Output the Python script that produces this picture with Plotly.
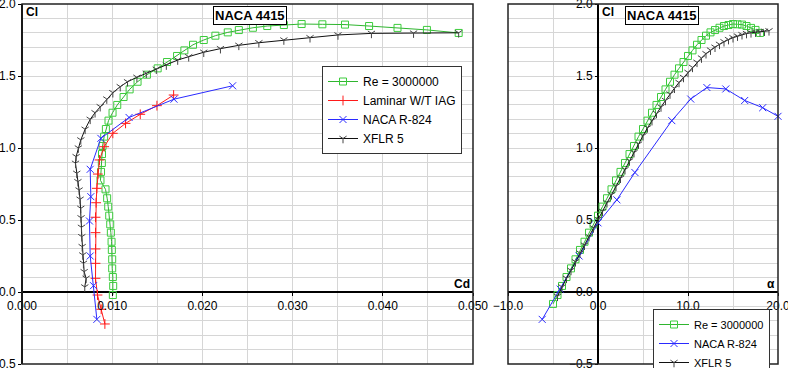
import plotly.graph_objects as go

# ---------------- data ----------------
# Re = 3000000 (lift curve, right panel)
green_alpha = [-5.0, -4.5, -4.0, -3.5, -3.0, -2.5, -2.0, -1.5, -1.0, -0.5, 0.0, 0.5, 1.0, 1.5,
               2.0, 2.5, 3.0, 3.5, 4.0, 4.5, 5.0, 5.5, 6.0, 6.5, 7.0, 7.5, 8.0, 8.5, 9.0, 9.5,
               10.0, 10.5, 11.0, 11.5, 12.0, 12.5, 13.0, 13.5, 14.0, 14.5, 15.0, 15.5, 16.0,
               16.5, 17.0, 17.5, 18.0]
green_cl = [-0.083, -0.021, 0.042, 0.104, 0.164, 0.227, 0.292, 0.349, 0.412, 0.470, 0.530, 0.593,
            0.651, 0.713, 0.775, 0.834, 0.896, 0.958, 1.014, 1.079, 1.132, 1.190, 1.245, 1.299,
            1.354, 1.407, 1.460, 1.509, 1.553, 1.597, 1.639, 1.678, 1.717, 1.750, 1.780, 1.803,
            1.819, 1.835, 1.847, 1.854, 1.861, 1.859, 1.857, 1.847, 1.834, 1.820, 1.799]
# Re = 3000000 (drag polar, left panel)
green_polar_cl = [-0.021, 0.042, 0.104, 0.164, 0.227, 0.292, 0.349, 0.412, 0.470, 0.530, 0.593,
                  0.651, 0.713, 0.775, 0.834, 0.896, 0.958, 1.014, 1.079, 1.132, 1.190, 1.245,
                  1.299, 1.354, 1.407, 1.460, 1.509, 1.553, 1.597, 1.639, 1.678, 1.717, 1.750,
                  1.780, 1.803, 1.819, 1.835, 1.847, 1.854, 1.861, 1.859, 1.857, 1.847, 1.834,
                  1.820, 1.799]
green_cd = [0.01007, 0.01011, 0.01007, 0.0100, 0.0100, 0.00996, 0.00993, 0.00985, 0.00978,
            0.00967, 0.00956, 0.00944, 0.00926, 0.0087, 0.00876, 0.00885, 0.00887, 0.00893,
            0.00911, 0.0093, 0.00959, 0.01004, 0.01056, 0.01126, 0.01193, 0.01281, 0.01385,
            0.01504, 0.01608, 0.01719, 0.0180, 0.01896, 0.02015, 0.02144, 0.02281, 0.02404,
            0.0256, 0.02719, 0.02903, 0.0310, 0.0333, 0.03581, 0.03848, 0.04163, 0.04489, 0.04841]

# Laminar W/T IAG (drag polar)
red_cd = [0.00919, 0.00878, 0.00837, 0.00815, 0.00815, 0.00815, 0.00815, 0.00815, 0.00822,
          0.0083, 0.00841, 0.00859, 0.00911, 0.01007, 0.01148, 0.01311, 0.01496, 0.01681]
red_cl = [-0.222, -0.12, -0.021, 0.095, 0.199, 0.299, 0.412, 0.519, 0.62, 0.72, 0.819, 0.917,
          1.009, 1.102, 1.171, 1.234, 1.294, 1.368]

# NACA R-824
blue_cd = [0.0083, 0.00793, 0.00756, 0.00748, 0.00763, 0.00756, 0.00874, 0.01187, 0.01685, 0.02335]
blue_polar_cl = [-0.19, 0.044, 0.25, 0.493, 0.662, 0.852, 1.067, 1.212, 1.339, 1.432]
blue_alpha = [-6.2, -4.2, -2.1, 0.0, 2.1, 4.1, 8.2, 10.3, 12.1, 14.2, 16.3, 18.3, 20.0]
blue_cl = [-0.19, 0.02, 0.25, 0.48, 0.64, 0.83, 1.19, 1.34, 1.42, 1.41, 1.33, 1.28, 1.22]

# XFLR 5
black_cd = [0.00696, 0.00711, 0.00689, 0.00681, 0.00674, 0.00667, 0.00663, 0.00659, 0.00655,
            0.00652, 0.00644, 0.00633, 0.0062, 0.00607, 0.00593, 0.0060, 0.00625, 0.00652,
            0.0070, 0.00756, 0.0081, 0.00867, 0.0094, 0.01007, 0.01089, 0.0117, 0.01274,
            0.01378, 0.01489, 0.016, 0.01726, 0.01848, 0.02015, 0.022, 0.02404, 0.02626,
            0.02903, 0.03193, 0.03503, 0.03874, 0.04341, 0.04841]
black_polar_cl = [0.035, 0.095, 0.141, 0.199, 0.257, 0.315, 0.384, 0.449, 0.515, 0.581, 0.644,
                  0.708, 0.766, 0.824, 0.894, 0.94, 1.0, 1.056, 1.13, 1.199, 1.245, 1.287, 1.34,
                  1.384, 1.426, 1.46, 1.491, 1.519, 1.547, 1.576, 1.611, 1.634, 1.665, 1.69,
                  1.713, 1.731, 1.75, 1.766, 1.785, 1.796, 1.798, 1.80]
black_alpha = [-4.5, -4.0, -3.5, -3.0, -2.5, -2.0, -1.5, -1.0, -0.5, 0.0, 0.5, 1.0, 1.5, 2.0,
               2.5, 3.0, 3.5, 4.0, 4.5, 5.0, 5.5, 6.0, 6.5, 7.0, 7.5, 8.0, 8.5, 9.0, 9.5, 10.0,
               10.5, 11.0, 11.5, 12.0, 12.5, 13.0, 13.5, 14.0, 14.5, 15.0, 15.5, 16.0, 16.5,
               17.0, 17.5, 18.0, 18.5, 19.0]
black_cl = [-0.03, 0.035, 0.095, 0.15, 0.21, 0.27, 0.325, 0.385, 0.445, 0.505, 0.56, 0.62,
            0.675, 0.735, 0.79, 0.85, 0.91, 0.968, 1.027, 1.085, 1.14, 1.19, 1.24, 1.285, 1.33,
            1.375, 1.415, 1.455, 1.49, 1.525, 1.56, 1.595, 1.625, 1.655, 1.68, 1.70, 1.72,
            1.738, 1.753, 1.766, 1.777, 1.787, 1.795, 1.80, 1.805, 1.808, 1.811, 1.814]

# ---------------- styles ----------------
FONT = "Liberation Sans, Arial, sans-serif"
W, H = 788, 368
GREEN_L, GREEN_M = "#2fb52f", "#3ccc3c"
RED = "#ff1a1a"
BLUE = "#2a2aff"
BLACK = "#111111"
GRID = "#d6d6d6"

fig = go.Figure()

def add(x, y, name, color, mcolor, symbol, size, xa, ya, leg, show=True):
    fig.add_trace(go.Scatter(
        x=x, y=y, name=name, mode="lines+markers",
        line=dict(color=color, width=1),
        marker=dict(symbol=symbol, size=size, color=mcolor,
                    line=dict(color=mcolor, width=1)),
        xaxis=xa, yaxis=ya, legend=leg, showlegend=show, cliponaxis=False))

# left panel (drag polar)
add(green_cd, green_polar_cl, "Re = 3000000", GREEN_L, GREEN_M, "square-open", 7, "x", "y", "legend")
add(red_cd, red_cl, "Laminar W/T IAG", RED, RED, "cross-thin", 7, "x", "y", "legend")
add(blue_cd, blue_polar_cl, "NACA R-824", BLUE, BLUE, "x-thin", 7, "x", "y", "legend")
add(black_cd, black_polar_cl, "XFLR 5", BLACK, "#444444", "y-down", 6, "x", "y", "legend")

# right panel (lift curve)
add(green_alpha, green_cl, "Re = 3000000", GREEN_L, GREEN_M, "square-open", 7, "x2", "y2", "legend2")
add(blue_alpha, blue_cl, "NACA R-824", BLUE, BLUE, "x-thin", 7, "x2", "y2", "legend2")
add(black_alpha, black_cl, "XFLR 5", BLACK, "#444444", "y-down", 6, "x2", "y2", "legend2")

xl = [22 / W, 473 / W]
xr = [508 / W, 778 / W]
yd = [1 - 364 / H, 1 - 4 / H]
x_axis_pos = 1 - 292 / H

common = dict(showgrid=True, gridcolor=GRID, gridwidth=1, zeroline=True,
              zerolinecolor="#000000", zerolinewidth=1.5, showline=False,
              ticks="outside", ticklen=3, tickcolor="#000000",
              ticklabeloverflow="allow",
              tickfont=dict(family=FONT, size=12, color="#000000"))

fig.update_layout(
    width=W, height=H, margin=dict(l=0, r=0, t=0, b=0, autoexpand=False),
    paper_bgcolor="white", plot_bgcolor="white",
    font=dict(family=FONT, size=12, color="#000000"),
    xaxis=dict(domain=xl, range=[0, 0.05], anchor="free", position=x_axis_pos,
               tick0=0, dtick=0.01, tickformat=".3f",
               minor=dict(dtick=0.005, showgrid=True, gridcolor=GRID), **common),
    yaxis=dict(domain=yd, range=[-0.5, 2.0], anchor="x", tick0=0, dtick=0.5, tickformat=".1f",
               minor=dict(dtick=0.1, showgrid=True, gridcolor=GRID), **common),
    xaxis2=dict(domain=xr, range=[-10, 20], anchor="free", position=x_axis_pos,
                tick0=0, dtick=10, tickformat=".1f",
                minor=dict(dtick=5, showgrid=True, gridcolor=GRID), **common),
    yaxis2=dict(domain=yd, range=[-0.5, 2.0], anchor="free", position=598 / W,
                tick0=0, dtick=0.5, tickformat=".1f",
                minor=dict(dtick=0.1, showgrid=True, gridcolor=GRID), **common),
    legend=dict(x=462 / W, y=1 - 66 / H, xanchor="right", yanchor="top",
                bgcolor="white", bordercolor="#333333", borderwidth=1,
                font=dict(family=FONT, size=12), itemwidth=30, tracegroupgap=0),
    legend2=dict(x=770 / W, y=1 - 309 / H, xanchor="right", yanchor="top",
                 bgcolor="white", bordercolor="#333333", borderwidth=1,
                 font=dict(family=FONT, size=11), itemwidth=30, tracegroupgap=0),
    shapes=[
        dict(type="rect", xref="x domain", yref="y domain", x0=0, x1=1, y0=0, y1=1,
             line=dict(color="#222222", width=1.5), layer="above"),
        dict(type="rect", xref="x2 domain", yref="y2 domain", x0=0, x1=1, y0=0, y1=1,
             line=dict(color="#222222", width=1.5), layer="above"),
    ],
)

def ann(text, x, y, size=12, box=False):
    d = dict(text=text, x=x / W, y=1 - y / H, xref="paper", yref="paper",
             showarrow=False, xanchor="center", yanchor="middle",
             font=dict(family=FONT, size=size, color="#000000"))
    if box:
        d.update(bgcolor="white", bordercolor="#000000", borderwidth=1, borderpad=1)
    fig.add_annotation(**d)

ann("<b>NACA 4415</b>", 250, 16, 13, box=True)
ann("<b>NACA 4415</b>", 662, 16, 13, box=True)
ann("<b>Cl</b>", 32, 12)
ann("<b>Cl</b>", 608, 12)
ann("<b>Cd</b>", 462, 284)
ann("<b>α</b>", 771, 284)

fig.write_html("out.html", config={"displayModeBar": False})

# remove the default page margin so the figure sits at the window's top-left corner
with open("out.html", "r", encoding="utf-8") as f:
    html = f.read()
html = html.replace("<head>", "<head><style>html,body{margin:0;padding:0;overflow:hidden;}</style>", 1)
with open("out.html", "w", encoding="utf-8") as f:
    f.write(html)
